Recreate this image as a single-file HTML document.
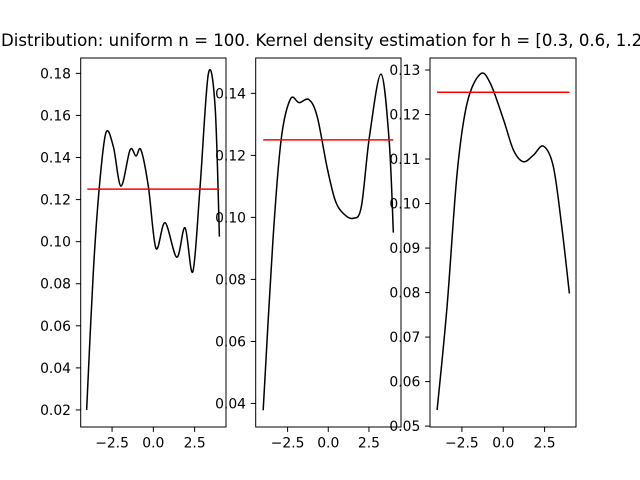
<!DOCTYPE html>
<html><head><meta charset="utf-8">
<style>
html,body{margin:0;padding:0;background:#fff;}
svg{display:block;font-family:"DejaVu Sans","Liberation Sans",sans-serif;}
</style></head>
<body>
<svg id="fig" width="640" height="480" viewBox="0 0 640 480">
<rect width="640" height="480" fill="#fff"/>
<text x="1" y="46" font-size="16.6" text-anchor="start" fill="#000">Distribution: uniform n = 100. Kernel density estimation for h = [0.3, 0.6, 1.2]</text>
</svg>
<script>
// Panel 1 (h = 0.3)
const x1 = [-4.04,-3.64,-3.27,-2.87,-2.42,-1.96,-1.41,-1.05,-0.75,-0.30,0.16,0.71,1.42,1.92,2.39,2.83,3.33,3.74,4.0];
const y1 = [0.020,0.085,0.1261,0.1518,0.1451,0.1264,0.1436,0.1407,0.1436,0.1261,0.0968,0.109,0.0926,0.1066,0.0857,0.1261,0.1797,0.1642,0.1024];
const yTicks1 = [0.02,0.04,0.06,0.08,0.10,0.12,0.14,0.16,0.18];
// Panel 2 (h = 0.6)
const x2 = [-4,-3.4,-2.9,-2.33,-1.79,-1.19,-0.68,-0.08,0.42,0.92,1.53,2.03,2.53,3.24,3.74,4.0];
const y2 = [0.0378,0.0927,0.1249,0.1381,0.137,0.138,0.1325,0.1163,0.1056,0.1013,0.0997,0.1034,0.126,0.1462,0.1249,0.0951];
const yTicks2 = [0.04,0.06,0.08,0.10,0.12,0.14];
// Panel 3 (h = 1.2)
const x3 = [-4,-3.4,-2.79,-2.19,-1.39,-0.78,0.02,0.62,1.22,1.83,2.43,3.03,3.54,4.0];
const y3 = [0.0536,0.0768,0.1068,0.1225,0.1291,0.127,0.1188,0.112,0.1094,0.1109,0.1129,0.1083,0.0948,0.0798];
const yTicks3 = [0.05,0.06,0.07,0.08,0.09,0.10,0.11,0.12,0.13];
// true uniform density
const trueDensity = 0.125;
const trueRange = [-4, 4];
const xTicks = [-2.5, 0.0, 2.5];

const NS = "http://www.w3.org/2000/svg";
const svg = document.getElementById('fig');
function mk(tag, attrs, parent){
  const e = document.createElementNS(NS, tag);
  for (const k in attrs) e.setAttribute(k, attrs[k]);
  (parent||svg).appendChild(e);
  return e;
}
const panels = [
  {xs:x1, ys:y1, yt:yTicks1, L:80.7, R:226, xlim:[-4.4,4.4], ylim:[0.0119,0.1873], dec:2},
  {xs:x2, ys:y2, yt:yTicks2, L:255.7, R:401, xlim:[-4.46,4.47], ylim:[0.0324,0.1514], dec:2},
  {xs:x3, ys:y3, yt:yTicks3, L:430, R:576, xlim:[-4.43,4.40], ylim:[0.0498,0.1327], dec:2}
];
const T = 58, B = 427;
panels.forEach((p, i) => {
  const g = mk('g', {});
  
  
  const sx = v => p.L + (v - p.xlim[0]) / (p.xlim[1] - p.xlim[0]) * (p.R - p.L);
  const sy = v => B - (v - p.ylim[0]) / (p.ylim[1] - p.ylim[0]) * (B - T);
  const pts = p.xs.map((x, k) => [sx(x), sy(p.ys[k])]);
  let d = 'M' + pts[0][0].toFixed(2) + ',' + pts[0][1].toFixed(2);
  for (let k = 0; k < pts.length - 1; k++) {
    const p0 = pts[Math.max(0, k-1)], p1 = pts[k], p2 = pts[k+1], p3 = pts[Math.min(pts.length-1, k+2)];
    const c1 = [p1[0] + (p2[0]-p0[0])/6, p1[1] + (p2[1]-p0[1])/6];
    const c2 = [p2[0] - (p3[0]-p1[0])/6, p2[1] - (p3[1]-p1[1])/6];
    d += ' C' + c1[0].toFixed(2)+','+c1[1].toFixed(2)+' '+c2[0].toFixed(2)+','+c2[1].toFixed(2)+' '+p2[0].toFixed(2)+','+p2[1].toFixed(2);
  }
  const curve = mk('path', {d:d, fill:'none', stroke:'#000', 'stroke-width':1.5, 'stroke-linejoin':'round'}, g);
  
  
  const rl = mk('line', {x1:sx(trueRange[0]), x2:sx(trueRange[1]), y1:sy(trueDensity), y2:sy(trueDensity), stroke:'#ff0000', 'stroke-width':1.5}, g);
  
  
  const frame = mk('rect', {x:p.L, y:T, width:p.R-p.L, height:B-T, fill:'none', stroke:'#000', 'stroke-width':1}, g);
  
  
  xTicks.forEach(t => {
    const x = sx(t);
    const tk = mk('line', {x1:x, x2:x, y1:B, y2:B+4.9, stroke:'#000', 'stroke-width':1}, g);
    
    
    const lb = mk('text', {x:x, y:B+20.5, 'font-size':13.9, 'text-anchor':'middle', fill:'#000'}, g);
    lb.textContent = (t < 0 ? '\u2212' : '') + Math.abs(t).toFixed(1);
    
    
  });
  p.yt.forEach(t => {
    const y = sy(t);
    const tk = mk('line', {x1:p.L-4.9, x2:p.L, y1:y, y2:y, stroke:'#000', 'stroke-width':1}, g);
    
    
    const lb = mk('text', {x:p.L-9.7, y:y+5, 'font-size':13.9, 'text-anchor':'end', fill:'#000'}, g);
    lb.textContent = t.toFixed(p.dec);
    
    
  });
});
</script>
</body></html>
